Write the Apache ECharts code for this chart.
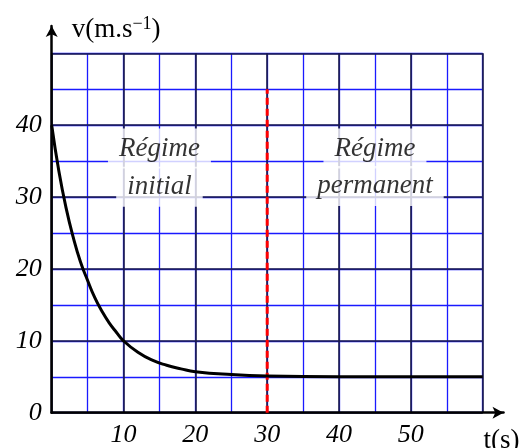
<!DOCTYPE html>
<html>
<head>
<meta charset="utf-8">
<script src="https://cdn.jsdelivr.net/npm/echarts@6/dist/echarts.min.js"></script>
<style>
  html, body { margin: 0; padding: 0; background: #fff; }
  #chart { width: 524px; height: 448px; }
</style>
</head>
<body>
<div id="chart"></div>
<script>
// values
const timeS = [0, 1, 2, 3, 4, 5, 6, 7, 8, 9, 10, 12, 14, 16, 18, 20, 25, 30, 40, 50, 60];
const speed = [40, 33.6, 28.5, 24.4, 21.0, 18.4, 16.0, 14.1, 12.5, 11.2, 10.0, 8.4, 7.3, 6.6, 6.1, 5.7, 5.3, 5.1, 5.0, 5.0, 5.0];
const boundaryT = 30;
const boundarySpan = [0, 45];
const initialText = ['Régime', 'initial'];
const permanentText = ['Régime', 'permanent'];

const serif = 'Liberation Serif';
const darkGrid = '#1c1c48';
const blueGrid = '#1a1aff';

const myChart = echarts.init(document.getElementById('chart'));

const curve = timeS.map((t, i) => [t, speed[i]]);
const boundary = boundarySpan.map(v => [boundaryT, v]);
const labels = [
  [15, 36.75, initialText[0]],
  [15, 31.45, initialText[1]],
  [45, 36.75, permanentText[0]],
  [45, 31.55, permanentText[1]]
];

const plotBox = { left: 51.7, right: 41.3, top: 53.3, bottom: 35.3, outerBoundsMode: 'none' };
const hidden = { axisLine: { show: false }, axisTick: { show: false }, axisLabel: { show: false } };

myChart.setOption({
  animation: false,
  grid: [
    plotBox,
    plotBox,
    { left: 51.7, right: 20.5, top: 26, bottom: 35.3, outerBoundsMode: 'none' }
  ],
  xAxis: [
    // fine blue grid, every 5 s
    Object.assign({ gridIndex: 0, type: 'value', min: 0, max: 60, interval: 5, z: 0,
      splitLine: { show: true, lineStyle: { color: blueGrid, width: 1.3 } } }, hidden),
    // dark grid + labels, every 10 s
    {
      gridIndex: 1, type: 'value', min: 0, max: 60, interval: 10, z: 1,
      axisLine: { show: false },
      axisTick: { show: false },
      axisLabel: {
        margin: 9,
        fontFamily: serif, fontStyle: 'italic', fontSize: 26, color: '#000',
        formatter: v => (v === 0 || v === 60) ? '' : String(v)
      },
      splitLine: { show: true, lineStyle: { color: darkGrid, width: 1.6 } }
    },
    {
      gridIndex: 2, type: 'value', min: 0, max: 1, z: 2,
      axisLine: { show: true, symbol: ['none', 'arrow'], symbolSize: [9, 11], lineStyle: { color: '#000', width: 2.5 } },
      axisTick: { show: false }, axisLabel: { show: false }, splitLine: { show: false },
      name: 't(s)', nameLocation: 'end', nameGap: -2,
      nameTextStyle: { fontFamily: serif, fontSize: 27, color: '#000', align: 'center', verticalAlign: 'top', padding: [15, 0, 0, 0] }
    }
  ],
  yAxis: [
    Object.assign({ gridIndex: 0, type: 'value', min: 0, max: 50, interval: 5, z: 0,
      splitLine: { show: true, lineStyle: { color: blueGrid, width: 1.3 } } }, hidden),
    {
      gridIndex: 1, type: 'value', min: 0, max: 50, interval: 10, z: 1,
      axisLine: { show: false },
      axisTick: { show: false },
      axisLabel: {
        margin: 10,
        fontFamily: serif, fontStyle: 'italic', fontSize: 26, color: '#000',
        formatter: v => v === 50 ? '' : String(v)
      },
      splitLine: { show: true, lineStyle: { color: darkGrid, width: 1.6 } }
    },
    {
      gridIndex: 2, type: 'value', min: 0, max: 1, z: 2,
      axisLine: { show: true, symbol: ['none', 'arrow'], symbolSize: [9, 11], lineStyle: { color: '#000', width: 2.5 } },
      axisTick: { show: false }, axisLabel: { show: false }, splitLine: { show: false },
      name: 'v(m.s{sup|−1})', nameLocation: 'end', nameGap: 0,
      nameTextStyle: {
        fontFamily: serif, fontSize: 27, color: '#000', align: 'left', verticalAlign: 'middle',
        padding: [8, 0, 0, 20],
        rich: { sup: { fontFamily: serif, fontSize: 18, color: '#000', verticalAlign: 'top', padding: [0, 0, 12, 0] } }
      }
    }
  ],
  series: [
    {
      name: 'frontiere', type: 'line', xAxisIndex: 1, yAxisIndex: 1, data: boundary, symbol: 'none', z: 3,
      lineStyle: { color: '#ff0000', width: 3, type: [7, 4] }
    },
    {
      name: 'regimes', type: 'scatter', xAxisIndex: 1, yAxisIndex: 1, data: labels, symbolSize: 0, z: 4,
      label: {
        show: true, position: 'inside',
        formatter: p => p.data[2],
        fontFamily: serif, fontStyle: 'italic', fontSize: 27, color: '#000',
        backgroundColor: '#fff', padding: [7, 11, 6, 11], lineHeight: 27
      }
    },
    {
      name: 'vitesse', type: 'line', xAxisIndex: 1, yAxisIndex: 1, data: curve, smooth: true, symbol: 'none', z: 5,
      lineStyle: { color: '#000', width: 3 }
    }
  ]
});
</script>
</body>
</html>
